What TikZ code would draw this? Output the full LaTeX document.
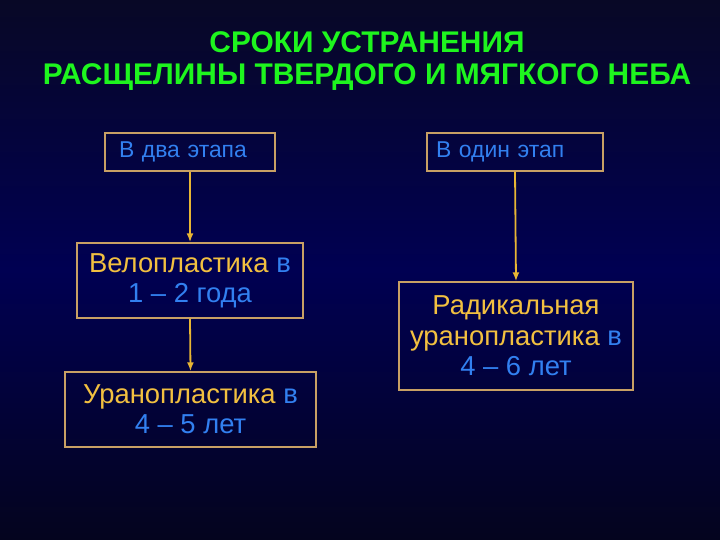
\documentclass[tikz,border=0pt]{standalone}
\usepackage{fontspec}
\setmainfont{Liberation Sans}
\usetikzlibrary{arrows, arrows.meta, positioning}
\definecolor{bgTop}{RGB}{8,8,38}
\definecolor{bgMid}{RGB}{0,0,82}
\definecolor{bgBot}{RGB}{4,4,30}
\definecolor{titleGreen}{RGB}{30,245,30}
\definecolor{goldTxt}{RGB}{242,192,64}
\definecolor{blueTxt}{RGB}{50,128,240}
\definecolor{boxLine}{RGB}{200,160,100}
\definecolor{arrowGold}{RGB}{232,182,52}
\tikzset{
    stageBox/.style={rectangle, draw=boxLine, line width=1.4bp, minimum height=38bp, inner ysep=0pt, align=left, text=blueTxt, font=\fontsize{23}{27}\selectfont},
    resultBox/.style={rectangle, draw=boxLine, line width=1.4bp, inner sep=0pt, align=center, text=goldTxt, font=\fontsize{27.5}{30.5}\selectfont},
    linkArrow/.style={-{Latex[length=9bp, width=7bp]}, draw=arrowGold, fill=arrowGold, line width=1.8bp},
}
\newcommand{\drawStep}[2]{
    \draw[linkArrow] (#1.south) -- (#2.north);
}
\newcommand{\bl}[1]{{\color{blueTxt}#1}}

\begin{document}
\begin{tikzpicture}[x=1bp, y=-1bp]

        % background
        \shade[top color=bgTop, bottom color=bgBot, middle color=bgMid] (0,0) rectangle (720,540);
        \useasboundingbox (0,0) rectangle (720,540);

        \node[align=center, text=titleGreen, font=\fontsize{30}{33}\selectfont\bfseries] (title) at (367,61)
            {СРОКИ УСТРАНЕНИЯ\\ РАСЩЕЛИНЫ ТВЕРДОГО И МЯГКОГО НЕБА};

        \node[stageBox, inner xsep=14bp, text width=142bp] (two) at (190,152) {В два этапа};
        \node[stageBox, inner xsep=9bp, text width=158bp] (one) at (515,152) {В один этап};

        \node[resultBox, minimum width=226bp, minimum height=75bp] (velo) at (190,280.5)
            {Велопластика \bl{в}\\ \bl{1 – 2 года}};
        \node[resultBox, minimum width=251bp, minimum height=75bp] (urano) at (190.5,409.5)
            {Уранопластика \bl{в}\\ \bl{4 – 5 лет}};
        \node[resultBox, minimum width=234bp, minimum height=108bp] (radical) at (516,336)
            {Радикальная\\ уранопластика \bl{в}\\ \bl{4 – 6 лет}};

        \drawStep{two}{velo}
        \drawStep{velo}{urano}
        \drawStep{one}{radical}

    \end{tikzpicture}
\end{document}
